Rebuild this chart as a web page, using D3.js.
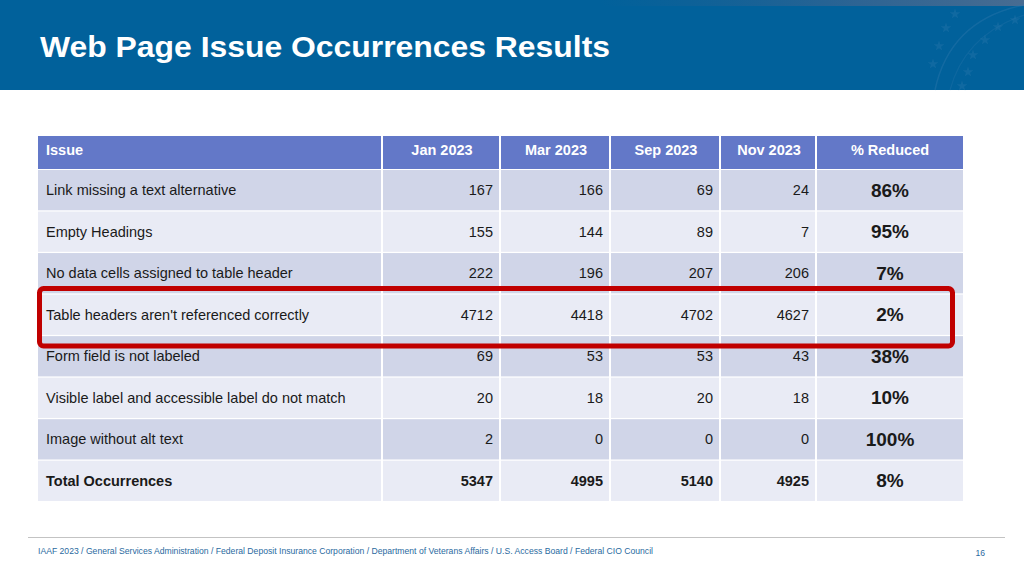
<!DOCTYPE html>
<html><head><meta charset="utf-8">
<script src="https://cdn.jsdelivr.net/npm/d3@7"></script>
<style>html,body{margin:0;padding:0;background:#fff;}svg{display:block;font-family:"Liberation Sans",Arial,sans-serif;}</style>
</head><body>
<svg id="c" width="1024" height="576"></svg>
<script>
const title = "Web Page Issue Occurrences Results";
const headers = ["Issue", "Jan 2023", "Mar 2023", "Sep 2023", "Nov 2023", "% Reduced"];
const issues = [
  "Link missing a text alternative",
  "Empty Headings",
  "No data cells assigned to table header",
  "Table headers aren't referenced correctly",
  "Form field is not labeled",
  "Visible label and accessible label do not match",
  "Image without alt text",
  "Total Occurrences"
];
const jan2023 = [167, 155, 222, 4712, 69, 20, 2, 5347];
const mar2023 = [166, 144, 196, 4418, 53, 18, 0, 4995];
const sep2023 = [69, 89, 207, 4702, 53, 20, 0, 5140];
const nov2023 = [24, 7, 206, 4627, 43, 18, 0, 4925];
const reduced = ["86%", "95%", "7%", "2%", "38%", "10%", "100%", "8%"];
const highlighted = "Table headers aren't referenced correctly";
const footer = "IAAF 2023 / General Services Administration / Federal Deposit Insurance Corporation / Department of Veterans Affairs / U.S. Access Board / Federal CIO Council";
const pageNum = "16";

const svg = d3.select("#c");
const defs = svg.append("defs");
const g2 = defs.append("linearGradient").attr("id","tr").attr("x1",0).attr("y1",0).attr("x2",1).attr("y2",0);
g2.append("stop").attr("offset","0").attr("stop-color","#2a5f8e").attr("stop-opacity",0);
g2.append("stop").attr("offset","0.6").attr("stop-color","#3f6590").attr("stop-opacity",0.7);
g2.append("stop").attr("offset","1").attr("stop-color","#5a6f8f").attr("stop-opacity",0.8);

// banner
svg.append("rect").attr("x",0).attr("y",0).attr("width",1024).attr("height",90).attr("fill","#01619b");
svg.append("rect").attr("x",600).attr("y",0).attr("width",424).attr("height",6).attr("fill","url(#tr)");
svg.append("path").attr("d","M 935 90 Q 950 20 1024 5").attr("fill","none").attr("stroke","#2f78ad").attr("stroke-opacity",0.4).attr("stroke-width",1.5);
svg.append("path").attr("d","M 950 90 Q 965 35 1024 15").attr("fill","none").attr("stroke","#2f78ad").attr("stroke-opacity",0.3).attr("stroke-width",1.2);
const starPts = [[955,14],[946,28],[939,46],[933,64],[1015,20],[998,27],[985,40],[973,55],[968,72],[962,86]];
const star = d3.symbol().type(d3.symbolStar).size(36);
svg.selectAll(".star").data(starPts).join("path").attr("class","star")
  .attr("transform",d=>`translate(${d[0]},${d[1]})`).attr("d",star).attr("fill","#2f78ad").attr("opacity",0.35);

svg.append("text").attr("x",40).attr("y",57).attr("fill","#fff").attr("font-weight","bold")
  .attr("font-size",29).attr("textLength",570).attr("lengthAdjust","spacingAndGlyphs").text(title);

// table layout
const colKeys = d3.range(headers.length);
const colEdges = [38, 383, 501, 611, 721, 817, 963];
const x0 = d3.scaleOrdinal().domain(colKeys).range(colEdges.slice(0,-1));
const x1 = d3.scaleOrdinal().domain(colKeys).range(colEdges.slice(1));
const y = d3.scaleBand().domain(issues).range([170, 501]).paddingInner(0.03).paddingOuter(0);
const headTop = 136, headBottom = 169;

const tbl = svg.append("g");
tbl.selectAll(".hc").data(colKeys).join("rect").attr("class","hc")
  .attr("x",d=>x0(d)).attr("y",headTop).attr("width",d=>x1(d)-x0(d)-(d<colKeys.length-1?2:0)).attr("height",headBottom-headTop)
  .attr("fill","#6378c8");
tbl.selectAll(".ht").data(colKeys).join("text").attr("class","ht")
  .attr("x",d=>d===0? x0(d)+8 : (x0(d)+x1(d))/2).attr("y",(headTop+headBottom)/2-2.5)
  .attr("text-anchor",d=>d===0?"start":"middle").attr("dominant-baseline","central")
  .attr("fill","#fff").attr("font-weight","bold").attr("font-size",14.5).text(d=>headers[d]);

const rows = issues.map((iss,i)=>({iss, i, vals:[iss, jan2023[i], mar2023[i], sep2023[i], nov2023[i], reduced[i]]}));
const rg = tbl.selectAll(".row").data(rows).join("g").attr("class","row");
rg.selectAll("rect").data(r=>colKeys.map(c=>({r,c}))).join("rect")
  .attr("x",d=>x0(d.c)).attr("y",d=>y(d.r.iss)).attr("width",d=>x1(d.c)-x0(d.c)-(d.c<colKeys.length-1?2:0))
  .attr("height",y.bandwidth()).attr("fill",d=>d.r.i%2===0?"#d0d5e8":"#e9ebf5");
rg.selectAll("text").data(r=>colKeys.map(c=>({r,c}))).join("text")
  .attr("x",d=>d.c===0? x0(d.c)+8 : d.c===5 ? (x0(d.c)+x1(d.c))/2 : x1(d.c)-8)
  .attr("y",d=>y(d.r.iss)+y.bandwidth()/2)
  .attr("text-anchor",d=>d.c===0?"start":d.c===5?"middle":"end")
  .attr("dominant-baseline","central")
  .attr("fill","#1a1a1a")
  .attr("font-size",d=>d.c===5?19:14.5)
  .attr("font-weight",d=>(d.c===5||d.r.i===issues.length-1)?"bold":"normal")
  .text(d=>d.r.vals[d.c]);

const hy = y(highlighted);
svg.append("rect").attr("x",39.5).attr("y",hy-6).attr("width",913).attr("height",y.bandwidth()+17)
  .attr("rx",4).attr("fill","none").attr("stroke","#c00000").attr("stroke-width",5);

svg.append("line").attr("x1",28).attr("x2",1005).attr("y1",537.5).attr("y2",537.5).attr("stroke","#c3c3c3").attr("stroke-width",1);
svg.append("text").attr("x",38).attr("y",554).attr("font-size",8.6).attr("fill","#2a6aa0").attr("textLength",615).attr("lengthAdjust","spacingAndGlyphs").text(footer);
svg.append("text").attr("x",985).attr("y",556).attr("text-anchor","end").attr("font-size",8.6).attr("fill","#2a6aa0").text(pageNum);
</script>
</body></html>
